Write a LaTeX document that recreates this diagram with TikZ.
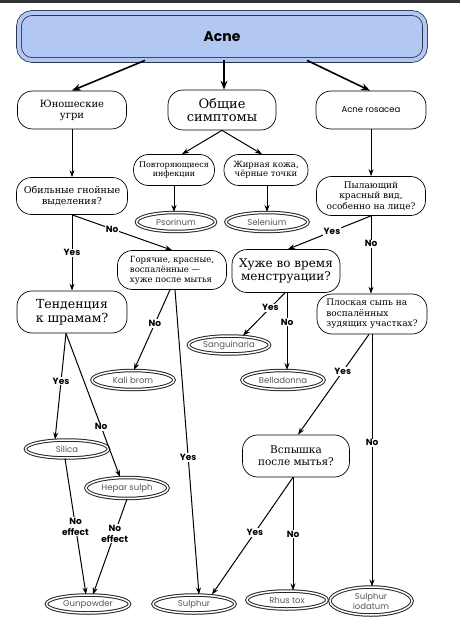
\documentclass[tikz,border=0pt]{standalone}
\usepackage{fontspec}
\setmainfont{DejaVu Serif}
\newfontfamily\remfont{Poppins}
\usepackage{xcolor}
\usetikzlibrary{shapes,arrows,positioning,calc,arrows.meta}

\definecolor{acneblue}{HTML}{B2C8F2}
\definecolor{acneline}{HTML}{2C3550}
\definecolor{remgray}{HTML}{555555}

\tikzset{
    arr/.style={-{Stealth[length=7pt,width=5pt]}, line width=1pt},
    bigarr/.style={-{Stealth[length=9pt,width=7pt]}, line width=1.6pt},
    qbox/.style={draw, line width=0.7pt, rounded corners=15pt, align=center, inner sep=1pt},
    rembox/.style={ellipse, draw=black!85, double, double distance=1.5pt, line width=1pt, text=remgray, font=\remfont\fontsize{8.5}{9}\selectfont, inner sep=0pt},
    lbl/.style={fill=white, font=\remfont\bfseries\fontsize{9}{11}\selectfont, inner sep=1pt, align=center}
}

\begin{document}
\begin{tikzpicture}[x=1pt, y=-1pt]
    \useasboundingbox (0,0) rectangle (460,628);
    \fill [black!80] (0,0) rectangle (460,3);

    % top box
    \node [draw=acneline, line width=0.8pt, double=acneblue, double distance=4pt, fill=acneblue, rounded corners=13pt, minimum width=406pt, minimum height=47pt, font=\remfont\bfseries\fontsize{14}{15}\selectfont] (acne) at (222,36.5) {Acne};

    % second row
    \node [qbox, minimum width=109pt, minimum height=38pt, font=\fontsize{10}{11}\selectfont] (yungi) at (72,110) {Юношеские\\угри};
    \node [qbox, minimum width=108pt, minimum height=40pt, font=\fontsize{13}{13}\selectfont] (obshie) at (222,110) {Общие\\симптомы};
    \node [qbox, minimum width=110pt, minimum height=38pt, font=\remfont\fontsize{8.5}{9}\selectfont] (rosacea) at (371,110) {Acne rosacea};

    \node [qbox, minimum width=81pt, minimum height=31pt, font=\fontsize{8}{9}\selectfont] (povtor) at (174,170) {Повторяющиеся\\инфекции};
    \node [qbox, minimum width=84pt, minimum height=31pt, font=\fontsize{8.5}{9.5}\selectfont] (zhirn) at (266,170) {Жирная кожа,\\чёрные точки};
    \node [rembox, minimum width=79pt, minimum height=19pt] (psorinum) at (176,222) {Psorinum};
    \node [rembox, minimum width=82pt, minimum height=19pt] (selenium) at (267,222) {Selenium};

    \node [qbox, minimum width=111pt, minimum height=37pt, font=\fontsize{9.5}{11}\selectfont] (obiln) at (72,196) {Обильные гнойные\\выделения?};
    \node [qbox, minimum width=109pt, minimum height=39pt, font=\fontsize{9}{10.5}\selectfont] (pylay) at (371,196) {Пылающий\\красный вид,\\особенно на лице?};

    \node [qbox, minimum width=110pt, minimum height=42pt, font=\fontsize{12.5}{13.5}\selectfont] (tend) at (72,312) {Тенденция\\к шрамам?};
    \node [qbox, minimum width=109pt, minimum height=39pt, align=left, font=\fontsize{8.5}{10}\selectfont] (goryach) at (172,270) {Горячие, красные,\\воспалённые —\\хуже после мытья};
    \node [qbox, minimum width=108pt, minimum height=43pt, font=\fontsize{12}{13.5}\selectfont] (khuzhe) at (286,271) {Хуже во время\\менструации?};
    \node [qbox, minimum width=110pt, minimum height=40pt, align=left, font=\fontsize{9}{10.5}\selectfont] (plosk) at (372,314) {Плоская сыпь на\\воспалённых\\зудящих участках?};

    \node [rembox, minimum width=82pt, minimum height=19pt] (kali) at (133,380) {Kali brom};
    \node [rembox, minimum width=81pt, minimum height=18pt] (sangu) at (229,345) {Sanguinaria};
    \node [rembox, minimum width=82pt, minimum height=19pt] (bellad) at (283,380) {Belladonna};
    \node [rembox, minimum width=83pt, minimum height=18pt] (silica) at (67,449) {Silica};
    \node [rembox, minimum width=82pt, minimum height=21pt] (hepar) at (127,488) {Hepar sulph};
    \node [qbox, minimum width=107pt, minimum height=42pt, font=\fontsize{10.5}{12}\selectfont] (vspysh) at (296,456) {Вспышка\\после мытья?};

    \node [rembox, minimum width=83pt, minimum height=18pt] (gunpow) at (88,604) {Gunpowder};
    \node [rembox, minimum width=82pt, minimum height=18pt] (sulphur) at (194,604) {Sulphur};
    \node [rembox, minimum width=80pt, minimum height=18pt] (rhus) at (287,600) {Rhus tox};
    \node [rembox, minimum width=82pt, minimum height=28pt, align=center, font=\remfont\fontsize{8.5}{10}\selectfont] (sulphiod) at (371,601) {Sulphur\\iodatum};

    % arrows from the top
    \draw [bigarr] ([xshift=-77pt]acne.south) -- ([xshift=0pt]yungi.north);
    \draw [bigarr] ([xshift=2pt]acne.south) -- ([xshift=2pt]obshie.north);
    \draw [bigarr] ([xshift=85pt]acne.south) -- ([xshift=-1pt]rosacea.north);

    \draw [arr] (obshie.south) -- ([xshift=8pt]povtor.north);
    \draw [arr] (obshie.south) -- ([xshift=-4pt]zhirn.north);
    \draw [arr] (povtor.south) -- ([xshift=-2pt]psorinum.north);
    \draw [arr] ([xshift=1pt]zhirn.south) -- (selenium.north);
    \draw [arr] (yungi.south) -- (obiln.north);
    \draw [arr] (rosacea.south) -- (pylay.north);

    % decisions
    \draw [arr] (obiln.south) -- (tend.north) node [lbl, pos=0.5] {Yes};
    \draw [arr] (obiln.south) -- (goryach.north) node [lbl, pos=0.4] {No};
    \draw [arr] (pylay.south) -- ([xshift=2pt]khuzhe.north) node [lbl, pos=0.47] {Yes};
    \draw [arr] (pylay.south) -- ([xshift=-1pt]plosk.north) node [lbl, pos=0.36] {No};

    \draw [arr] ([xshift=-2pt]goryach.south) -- ([xshift=1pt]kali.north) node [lbl, pos=0.42] {No};
    \draw [arr] ([xshift=3pt]goryach.south) -- ([xshift=5pt]sulphur.north) node [lbl, pos=0.55] {Yes};
    \draw [arr] ([xshift=-1pt]khuzhe.south) -- ([xshift=14pt]sangu.north) node [lbl, pos=0.35] {Yes};
    \draw [arr] ([xshift=1pt]khuzhe.south) -- ([xshift=4pt]bellad.north) node [lbl, pos=0.38] {No};

    \draw [arr] ([xshift=-6pt]tend.south) -- ([xshift=-12pt]silica.north) node [lbl, pos=0.45] {Yes};
    \draw [arr] ([xshift=-6pt]tend.south) -- ([xshift=-7pt]hepar.north) node [lbl, pos=0.65] {No};
    \draw [arr] ([xshift=-2pt]silica.south) -- ([xshift=-2pt]gunpow.north) node [lbl, pos=0.5] {No\\effect};
    \draw [arr] (hepar.south) -- ([xshift=5pt]gunpow.north) node [lbl, pos=0.36] {No\\effect};

    \draw [arr] ([xshift=-3pt]plosk.south) -- ([xshift=2pt]vspysh.north) node [lbl, pos=0.37] {Yes};
    \draw [arr] (plosk.south) -- ([xshift=1pt]sulphiod.north) node [lbl, pos=0.43] {No};
    \draw [arr] ([xshift=-3pt]vspysh.south) -- ([xshift=18pt]sulphur.north) node [lbl, pos=0.47] {Yes};
    \draw [arr] ([xshift=-3pt]vspysh.south) -- ([xshift=6pt]rhus.north) node [lbl, pos=0.5] {No};
\end{tikzpicture}
\end{document}
